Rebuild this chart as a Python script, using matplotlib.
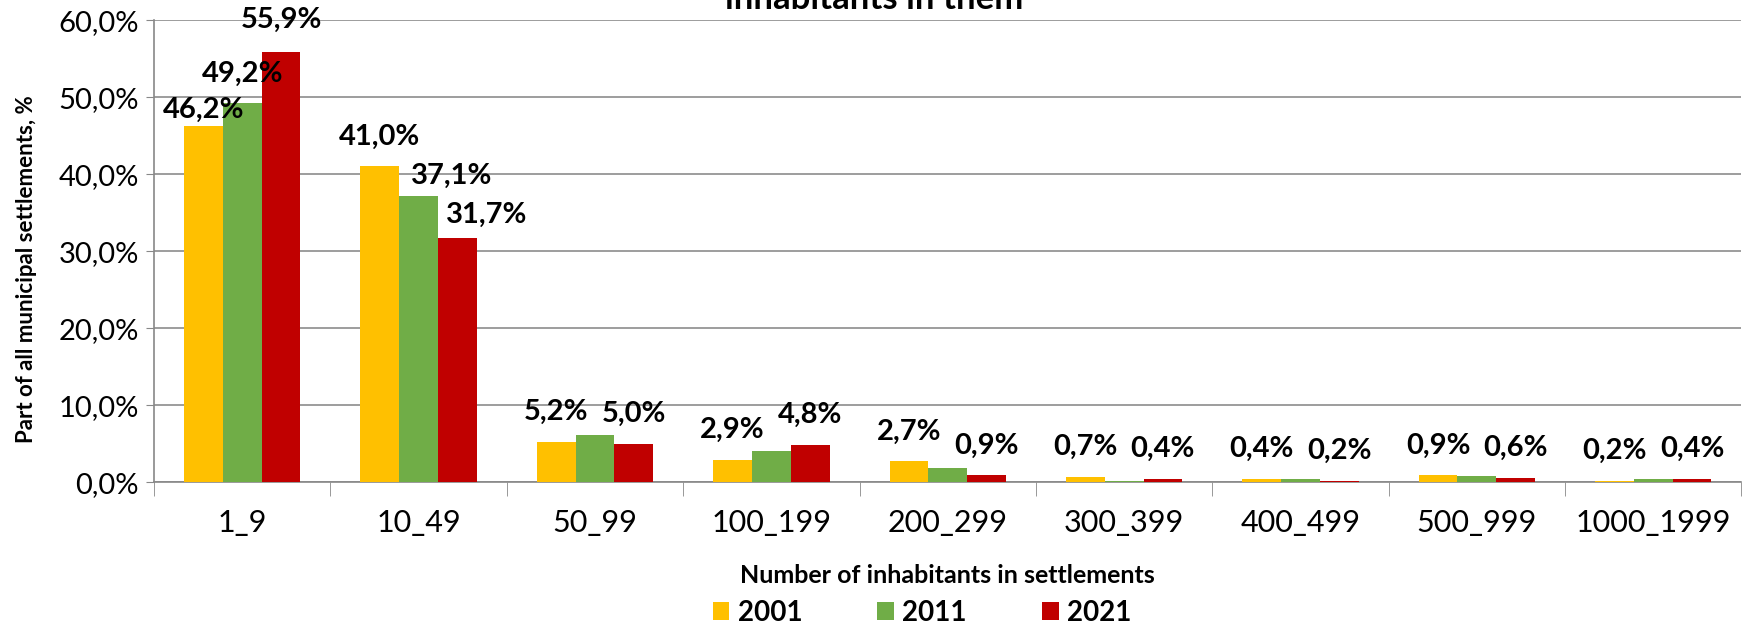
import numpy as np
import matplotlib
matplotlib.use("Agg")
import matplotlib.pyplot as plt
from matplotlib.ticker import FuncFormatter

plt.rcParams['font.family'] = ['Lato', 'DejaVu Sans']

categories = ['1_9', '10_49', '50_99', '100_199', '200_299',
              '300_399', '400_499', '500_999', '1000_1999']
years = ['2001', '2011', '2021']
share_2001 = [46.2, 41.0, 5.2, 2.9, 2.7, 0.7, 0.4, 0.9, 0.2]
share_2011 = [49.2, 37.1, 6.1, 4.0, 1.8, 0.2, 0.4, 0.8, 0.4]
share_2021 = [55.9, 31.7, 5.0, 4.8, 0.9, 0.4, 0.2, 0.6, 0.4]
# which bars carry a value label in the original chart
labelled_2001 = [True] * 9
labelled_2011 = [True, True, False, False, False, False, False, False, False]
labelled_2021 = [True] * 9

colors = ['#FFC000', '#70AD47', '#C00000']

# hand-moved labels in the original: (group, series) -> (dx, dy) in points
label_shift = {(0, 0): (0, 12), (0, 2): (0, 23),
               (1, 1): (24, 14.5), (1, 2): (21, 17)}


def pct(v, pos=None):
    return f"{v:.1f}%".replace('.', ',')


fig = plt.figure(figsize=(17.59, 6.27), dpi=100)
ax = fig.add_axes([0.0876, 0.231, 0.9024, 0.737])

x = np.arange(len(categories))
width = 0.22
series = [share_2001, share_2011, share_2021]
labelled = [labelled_2001, labelled_2011, labelled_2021]

for i, (vals, lab, col, yr) in enumerate(zip(series, labelled, colors, years)):
    pos = x + (i - 1) * width
    ax.bar(pos, vals, width, color=col, label=yr, zorder=3)
    for j, (p, v, show) in enumerate(zip(pos, vals, lab)):
        if not show:
            continue
        dx, dy = label_shift.get((j, i), (0, 21.5))
        ax.annotate(pct(v), (p, v), xytext=(dx, dy), textcoords='offset points',
                    ha='center', va='center', fontsize=21, fontweight='bold',
                    color='black', zorder=4)

ax.set_xlim(-0.5, len(categories) - 0.5)
ax.set_ylim(0, 60)
ax.set_yticks(np.arange(0, 61, 10))
ax.yaxis.set_major_formatter(FuncFormatter(pct))
ax.set_xticks(x)
ax.set_xticklabels(categories)
ax.set_xticks(np.arange(-0.5, len(categories)), minor=True)
ax.tick_params(axis='x', which='major', length=0, labelsize=22, pad=19)
ax.tick_params(axis='x', which='minor', length=10, color='#888888')
ax.tick_params(axis='y', length=6, color='#888888', labelsize=21, pad=5)

ax.grid(axis='y', color='#8c8c8c', linewidth=1.2, zorder=0)
for s in ['top', 'right']:
    ax.spines[s].set_visible(False)
for s in ['left', 'bottom']:
    ax.spines[s].set_color('#888888')
    ax.spines[s].set_linewidth(1.2)

ax.set_ylabel('Part of all municipal settlements, %', fontsize=16,
              fontweight='bold')
ax.yaxis.set_label_coords(-0.074, 0.461)
ax.set_xlabel('Number of inhabitants in settlements', fontsize=18,
              fontweight='bold')
ax.xaxis.set_label_coords(0.5, -0.178)

fig.text(0.497, 1 - 9 / 627, 'inhabitants in them', ha='center', va='baseline',
         fontsize=25, fontweight='bold')

leg = fig.legend(loc='center', bbox_to_anchor=(922 / 1759, 1 - 613 / 627), ncol=3,
                 frameon=False, prop={'size': 20, 'weight': 'bold'},
                 handlelength=0.6, handleheight=0.6, columnspacing=2.7,
                 handletextpad=0.3)

fig.savefig('out.png', dpi=100)
